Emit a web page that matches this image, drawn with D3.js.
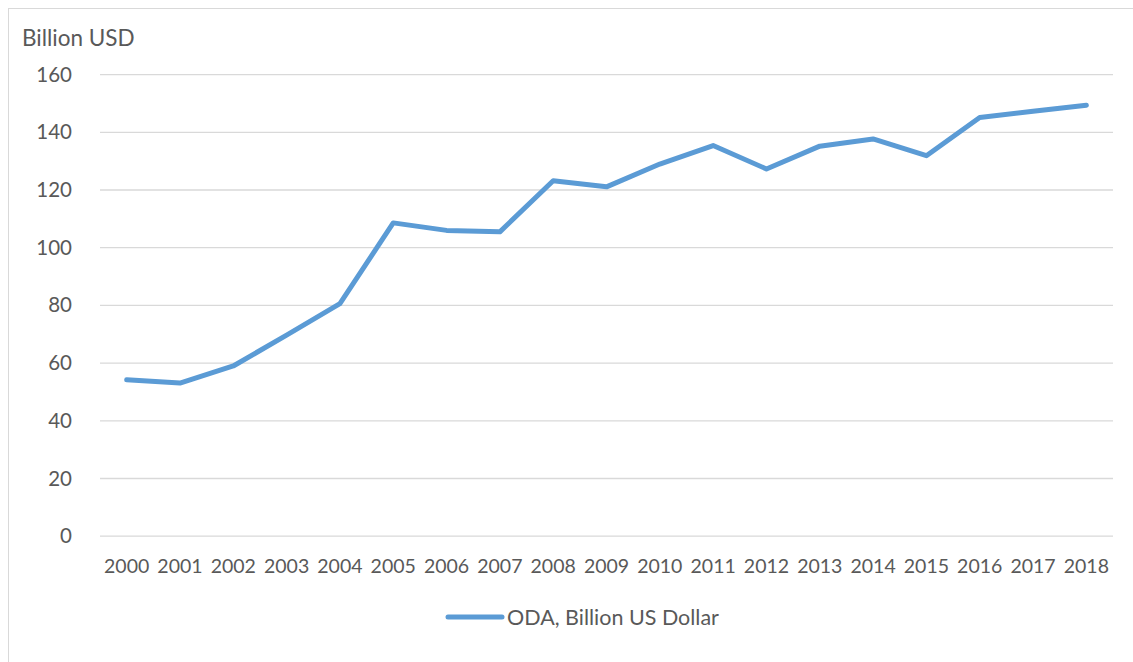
<!DOCTYPE html>
<html>
<head>
<meta charset="utf-8">
<script src="https://cdn.jsdelivr.net/npm/d3@7"></script>
<style>
  body { margin: 0; background: #fff; }
  text { font-family: Lato, "Open Sans", sans-serif; fill: #595959; }
</style>
</head>
<body>
<div id="chart"></div>
<script>
var width = 1133;
var height = 662;

// data
var years = ['2000', '2001', '2002', '2003', '2004', '2005', '2006', '2007', '2008', '2009',
  '2010', '2011', '2012', '2013', '2014', '2015', '2016', '2017', '2018'];
var oda = [54.2, 53.1, 59.0, 69.7, 80.6, 108.6, 106.0, 105.5, 123.2, 121.1,
  129.0, 135.4, 127.3, 135.2, 137.7, 131.9, 145.1, 147.3, 149.4];
var yTicks = [0, 20, 40, 60, 80, 100, 120, 140, 160];
var seriesName = 'ODA, Billion US Dollar';
var yTitle = 'Billion USD';

var margin = { left: 100, right: 20, top: 74.6, bottom: 125.8 };

var svg = d3.select('#chart').append('svg')
  .attr('width', width).attr('height', height);

// outer frame (only top/left edges fall inside the picture)
svg.append('rect')
  .attr('x', 8.5).attr('y', 8.5)
  .attr('width', width + 20).attr('height', height + 20)
  .attr('fill', 'none')
  .attr('stroke', '#d9d9d9')
  .attr('stroke-width', 1);

var x = d3.scaleBand()
  .domain(years)
  .range([margin.left, width - margin.right]);

var y = d3.scaleLinear()
  .domain([0, 160])
  .range([height - margin.bottom, margin.top]);

// gridlines
svg.append('g')
  .selectAll('line')
  .data(yTicks)
  .enter()
  .append('line')
  .attr('x1', margin.left)
  .attr('x2', width - margin.right)
  .attr('y1', function(d){ return y(d); })
  .attr('y2', function(d){ return y(d); })
  .attr('stroke', '#d9d9d9')
  .attr('stroke-width', 1.3);

// y axis labels
var yAxis = svg.append('g')
  .attr('transform', 'translate(' + (margin.left - 28) + ',0)')
  .call(d3.axisLeft(y).tickValues(yTicks).tickSize(0).tickPadding(0));
yAxis.select('.domain').remove();
yAxis.selectAll('text')
  .attr('font-size', 20.5)
  .style('font-family', 'Lato, sans-serif')
  .attr('fill', '#595959');

// x axis labels
var xAxis = svg.append('g')
  .attr('transform', 'translate(0,' + (height - margin.bottom) + ')')
  .call(d3.axisBottom(x).tickSize(0).tickPadding(23));
xAxis.select('.domain').remove();
xAxis.selectAll('text')
  .attr('font-size', 19.5)
  .style('font-family', 'Lato, sans-serif')
  .attr('fill', '#595959');

// y title
svg.append('text')
  .attr('x', 22)
  .attr('y', 46)
  .attr('font-size', 22.5)
  .text(yTitle);

// line
var line = d3.line()
  .x(function(d, i){ return x(years[i]) + x.bandwidth() / 2; })
  .y(function(d){ return y(d); });

svg.append('path')
  .datum(oda)
  .attr('d', line)
  .attr('fill', 'none')
  .attr('stroke', '#5b9bd5')
  .attr('stroke-width', 5)
  .attr('stroke-linejoin', 'round')
  .attr('stroke-linecap', 'round');

// legend
var legend = svg.append('g').attr('transform', 'translate(448,617)');
legend.append('line')
  .attr('x1', 0).attr('x2', 54)
  .attr('y1', 0).attr('y2', 0)
  .attr('stroke', '#5b9bd5')
  .attr('stroke-width', 5)
  .attr('stroke-linecap', 'round');
legend.append('text')
  .attr('x', 59)
  .attr('y', 0)
  .attr('dy', '0.35em')
  .attr('font-size', 21.5)
  .text(seriesName);
</script>
</body>
</html>
